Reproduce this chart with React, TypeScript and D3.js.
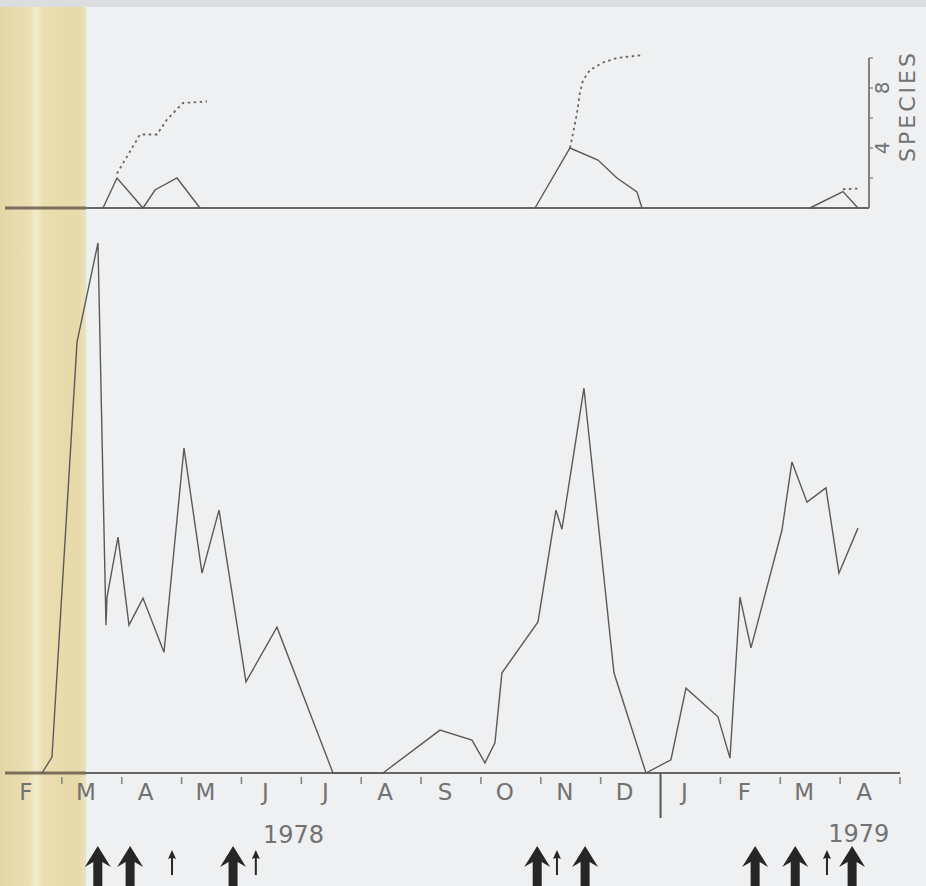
import React from "react";
import * as d3 from "d3";

// x in months since 1 Feb 1978
const mainMonths = [0.668, 0.835, 1.253, 1.603, 1.737, 1.754, 1.938, 2.121, 2.355, 2.706, 3.04, 3.341, 3.625, 4.075, 4.593, 5.529, 6.364, 7.316, 7.85, 8.067, 8.234, 8.351, 8.953, 9.253, 9.353, 9.721, 10.222, 10.757, 11.174, 11.425, 11.959, 12.16, 12.327, 12.511, 13.028, 13.195, 13.446, 13.763, 13.98, 14.298];
const mainValues = [0, 3.0, 81.3, 100, 27.9, 33.2, 44.5, 27.9, 33.0, 22.8, 61.3, 37.7, 49.6, 17.2, 27.5, 0, 0, 8.1, 6.2, 1.9, 5.7, 18.9, 28.5, 49.6, 46.0, 72.6, 18.9, 0, 2.5, 16.0, 10.6, 2.8, 33.2, 23.6, 45.8, 58.7, 51.1, 53.8, 37.7, 46.2];

const speciesS1Months = [1.687, 1.921, 2.355, 2.556, 2.923, 3.307];
const speciesS1Values = [0, 2, 0, 1.2, 2, 0];
const cumS1Months = [1.921, 2.305, 2.589, 2.756, 3.023, 3.424];
const cumS1Values = [2.3, 4.9, 4.9, 5.9, 7, 7.1];

const speciesS2Months = [8.903, 9.487, 9.955, 10.272, 10.606, 10.69];
const speciesS2Values = [0, 4, 3.2, 2, 1.07, 0];
const cumS2Months = [9.487, 9.504, 9.604, 9.654, 9.704, 9.821, 10.038, 10.272, 10.706];
const cumS2Values = [4, 4.3, 6.3, 7.7, 8.5, 9.2, 9.7, 10, 10.2];

const speciesS3Months = [13.496, 14.047, 14.298];
const speciesS3Values = [0, 1.1, 0];
const cumS3Months = [14.047, 14.331];
const cumS3Values = [1.25, 1.3];

const monthLabels = ["F", "M", "A", "M", "J", "J", "A", "S", "O", "N", "D", "J", "F", "M", "A"];
const yearLabels = ["1978", "1979"];
const speciesTicks = [2, 4, 6, 8, 10];
const speciesTickLabels = ["4", "8"];

const bigArrowMonths = [1.6, 2.14, 3.86, 8.94, 9.74, 12.58, 13.25, 14.2];
const thinArrowMonths = [2.84, 4.24, 9.27, 13.78];

const W = 926;
const H = 886;

export default function App() {
  const x = d3.scaleLinear().domain([0, 15]).range([2, 900]);
  const yMain = d3.scaleLinear().domain([0, 100]).range([773, 243]);
  const ySp = d3.scaleLinear().domain([0, 10]).range([208, 58]);

  const lineMain = d3
    .line<number>()
    .x((_, i) => x(mainMonths[i]))
    .y((v) => yMain(v));

  const spLine = (ms: number[], vs: number[]) =>
    d3
      .line<number>()
      .x((_, i) => x(ms[i]))
      .y((v) => ySp(v))(vs) || "";

  const font = "'DejaVu Sans', sans-serif";
  const textFill = "#727272";
  const lineColor = "#5a5a5a";

  const bigArrow = (cx: number, key: string) => {
    const tip = 846;
    const headH = 21;
    const headW = 13;
    const shaft = 4.5;
    const bottom = 890;
    const d = `M${cx},${tip} L${cx + headW},${tip + headH} L${cx + shaft},${tip + headH - 5} L${cx + shaft},${bottom} L${cx - shaft},${bottom} L${cx - shaft},${tip + headH - 5} L${cx - headW},${tip + headH} Z`;
    return <path key={key} d={d} fill="#262626" />;
  };

  const thinArrow = (cx: number, key: string) => {
    const tip = 850;
    const d = `M${cx},${tip} L${cx + 4},${tip + 9} L${cx + 1},${tip + 8} L${cx + 1},875 L${cx - 1},875 L${cx - 1},${tip + 8} L${cx - 4},${tip + 9} Z`;
    return <path key={key} d={d} fill="#262626" />;
  };

  return (
    <svg
      width={W}
      height={H}
      style={{ position: "absolute", left: 0, top: 0, display: "block" }}
      xmlns="http://www.w3.org/2000/svg"
    >
      <defs>
        <linearGradient id="strip" x1="0" x2="1" y1="0" y2="0">
          <stop offset="0" stopColor="#e4d6a6" />
          <stop offset="0.34" stopColor="#ebdfb3" />
          <stop offset="0.42" stopColor="#f3ebcf" />
          <stop offset="0.5" stopColor="#eadeb0" />
          <stop offset="0.9" stopColor="#e7d9a8" />
          <stop offset="1" stopColor="#ece2c0" />
        </linearGradient>
      </defs>
      <rect x={0} y={0} width={W} height={H} fill="#eff0f1" />
      <rect x={0} y={0} width={86} height={H} fill="url(#strip)" />
      <rect x={0} y={0} width={W} height={7} fill="#dcdddf" />

      {/* top panel */}
      <line x1={5} x2={869} y1={ySp(0)} y2={ySp(0)} stroke="#666" strokeWidth={2} />
      <line x1={5} x2={86} y1={ySp(0)} y2={ySp(0)} stroke="#7a6f5c" strokeWidth={3} />
      <line x1={869} x2={869} y1={ySp(10)} y2={ySp(0)} stroke="#666" strokeWidth={1.6} />
      {speciesTicks.map((t) => (
        <line key={"st" + t} x1={869} x2={873} y1={ySp(t)} y2={ySp(t)} stroke="#777" strokeWidth={1.2} />
      ))}
      {speciesTickLabels.map((t) => (
        <text
          key={"sl" + t}
          transform={`translate(${889},${ySp(+t)}) rotate(-90)`}
          textAnchor="middle"
          fontFamily={font}
          fontSize={20}
          fill={textFill}
        >
          {t}
        </text>
      ))}
      <text
        transform={`translate(${915},${106}) rotate(-90)`}
        textAnchor="middle"
        fontFamily={font}
        fontSize={22}
        letterSpacing={3}
        fill={textFill}
      >
        SPECIES
      </text>

      {[
        [speciesS1Months, speciesS1Values],
        [speciesS2Months, speciesS2Values],
        [speciesS3Months, speciesS3Values],
      ].map(([ms, vs], i) => (
        <path key={"ss" + i} d={spLine(ms, vs)} fill="none" stroke={lineColor} strokeWidth={1.4} />
      ))}
      {[
        [cumS1Months, cumS1Values],
        [cumS2Months, cumS2Values],
        [cumS3Months, cumS3Values],
      ].map(([ms, vs], i) => (
        <path
          key={"cs" + i}
          d={spLine(ms, vs)}
          fill="none"
          stroke="#666"
          strokeWidth={1.8}
          strokeDasharray="2.5 3.5"
        />
      ))}

      {/* main panel */}
      <line x1={5} x2={x(15)} y1={yMain(0)} y2={yMain(0)} stroke="#666" strokeWidth={2} />
      <line x1={5} x2={86} y1={yMain(0)} y2={yMain(0)} stroke="#7a6f5c" strokeWidth={3} />
      <path d={lineMain(mainValues) || ""} fill="none" stroke={lineColor} strokeWidth={1.4} strokeLinejoin="miter" />

      {d3.range(1, 16).filter((m) => m !== 11).map((m) => (
        <line key={"mt" + m} x1={x(m)} x2={x(m)} y1={777} y2={784} stroke="#888" strokeWidth={1.6} />
      ))}
      <line x1={x(11)} x2={x(11)} y1={yMain(0)} y2={818} stroke="#555" strokeWidth={2} />
      {monthLabels.map((l, i) => (
        <text
          key={"ml" + i}
          x={x(i + 0.4)}
          y={800}
          textAnchor="middle"
          fontFamily={font}
          fontSize={23}
          fill={textFill}
        >
          {l}
        </text>
      ))}
      <text x={x(4.36)} y={843} textAnchor="start" fontFamily={font} fontSize={24} fill={textFill}>
        {yearLabels[0]}
      </text>
      <text x={x(13.8)} y={842} textAnchor="start" fontFamily={font} fontSize={24} fill={textFill}>
        {yearLabels[1]}
      </text>

      {bigArrowMonths.map((m, i) => bigArrow(x(m), "ba" + i))}
      {thinArrowMonths.map((m, i) => thinArrow(x(m), "ta" + i))}
    </svg>
  );
}
